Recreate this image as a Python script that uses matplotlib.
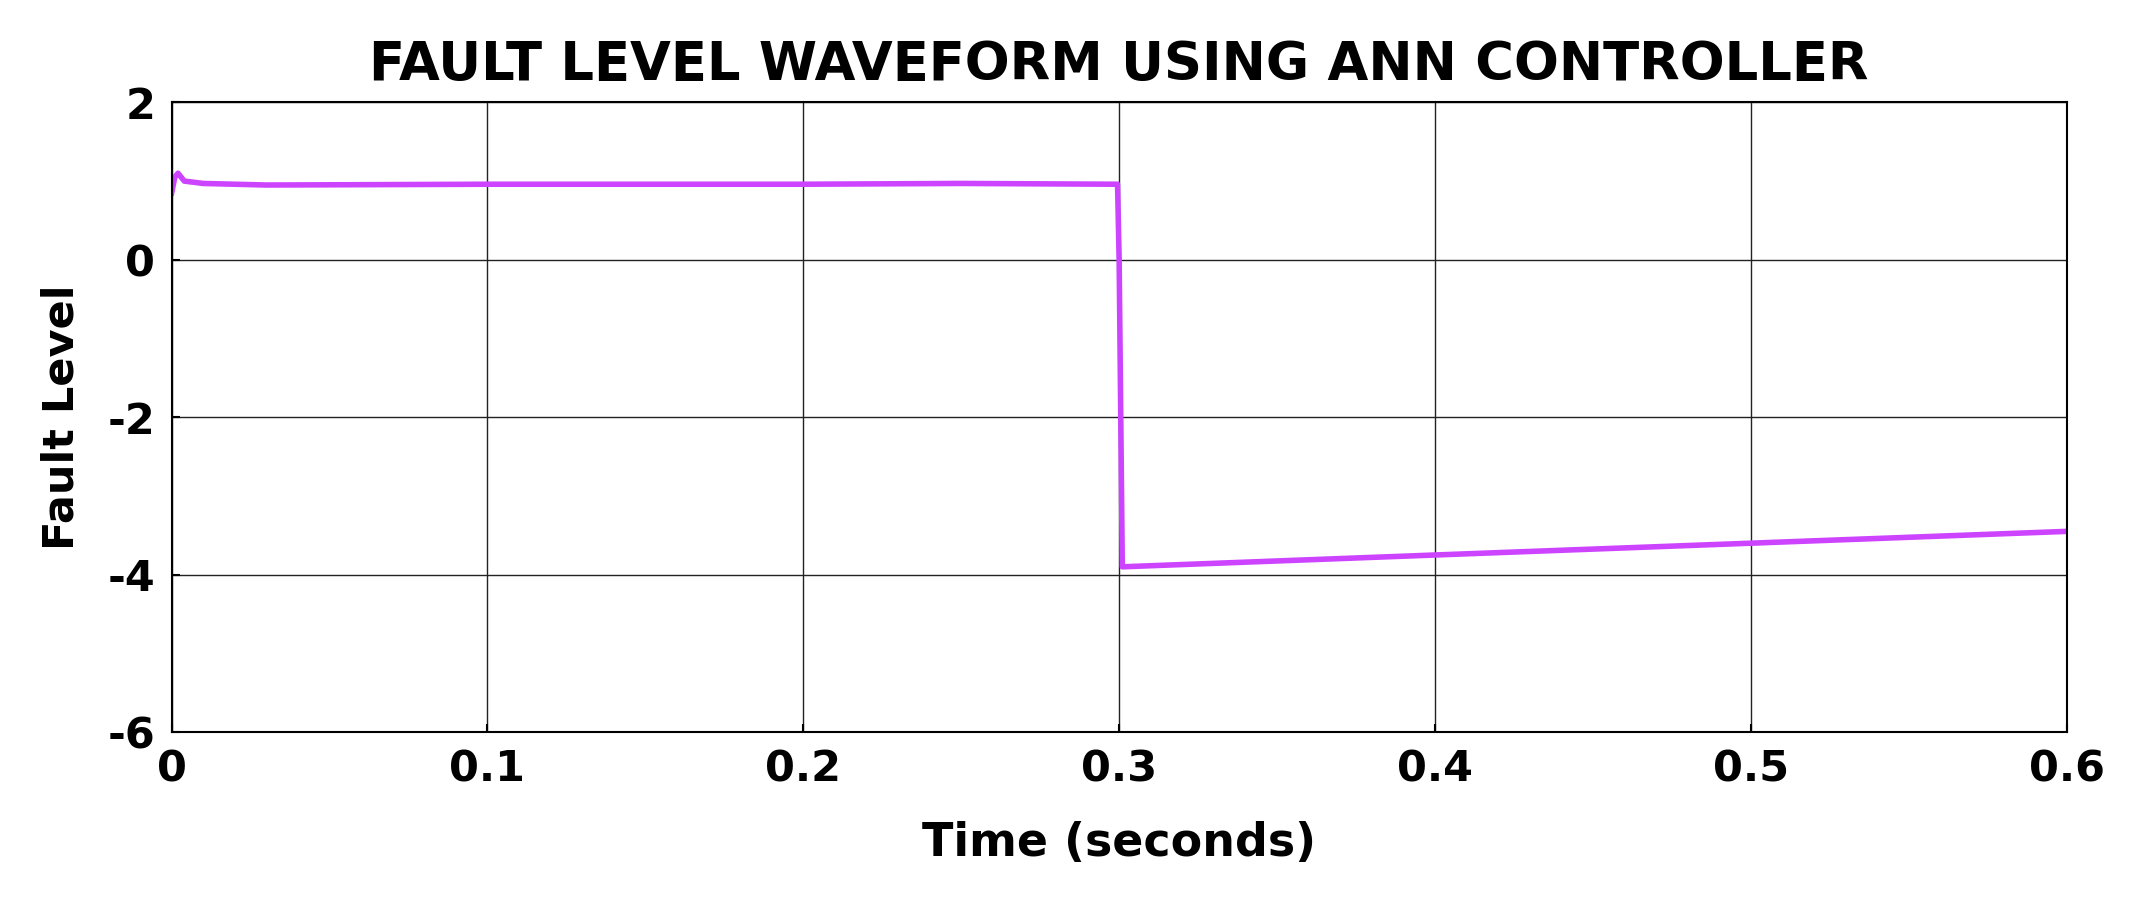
import matplotlib
matplotlib.use("Agg")
import matplotlib.pyplot as plt

plt.rcParams["axes.unicode_minus"] = False

time_s = [0.0, 0.001, 0.002, 0.004, 0.01, 0.03, 0.1, 0.2, 0.25, 0.2995, 0.3, 0.301, 0.4, 0.5, 0.6]
fault_level = [0.85, 1.05, 1.1, 1.0, 0.97, 0.95, 0.96, 0.96, 0.97, 0.96, 0.0, -3.9, -3.75, -3.6, -3.45]
xticks = [0, 0.1, 0.2, 0.3, 0.4, 0.5, 0.6]
xtick_labels = ["0", "0.1", "0.2", "0.3", "0.4", "0.5", "0.6"]
yticks = [-6, -4, -2, 0, 2]

fig = plt.figure(figsize=(21.46, 9.14), dpi=100)
ax = fig.add_axes([0.080, 0.199, 0.883, 0.689])
ax.plot(time_s, fault_level, color="#cc44ff", linewidth=4)
ax.set_xlim(0, 0.6)
ax.set_ylim(-6, 2)
ax.set_xticks(xticks)
ax.set_xticklabels(xtick_labels)
ax.set_yticks(yticks)
ax.grid(True, color="#222222", linewidth=1)
for s in ax.spines.values():
    s.set_linewidth(1.5)
ax.tick_params(labelsize=31, width=1.5, length=6, direction="in", pad=12)
for lbl in ax.get_xticklabels() + ax.get_yticklabels():
    lbl.set_fontweight("heavy")
ax.set_title("FAULT LEVEL WAVEFORM USING ANN CONTROLLER", fontsize=38, fontweight="heavy", pad=16)
ax.set_xlabel("Time (seconds)", fontsize=33, fontweight="heavy", labelpad=22)
ax.set_ylabel("Fault Level", fontsize=31, fontweight="heavy", labelpad=18)
fig.savefig("out.png", dpi=100)
